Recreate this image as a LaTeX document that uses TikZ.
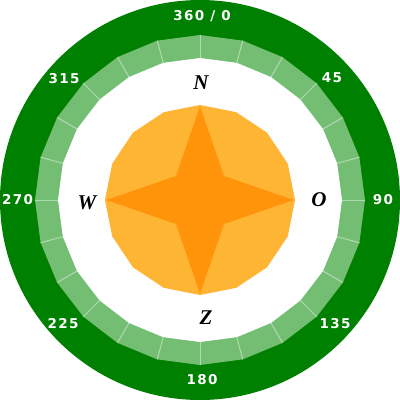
\documentclass[tikz,border=0pt]{standalone}
\usepackage{fontspec}
\newfontfamily\numfont{DejaVu Sans}[LetterSpace=10]
\newfontfamily\dirfont{Liberation Serif}
\definecolor{cgreen}{RGB}{0,128,0}
\definecolor{lgreen}{RGB}{116,190,116}
\definecolor{tickc}{RGB}{176,218,176}
\definecolor{corange}{RGB}{255,181,52}
\definecolor{sorange}{RGB}{255,148,10}
\tikzset{
  numlbl/.style={text=white,font=\numfont\bfseries\fontsize{13.5}{14}\selectfont,inner sep=0pt},
  dirlbl/.style={text=black,font=\dirfont\bfseries\itshape\fontsize{21}{22}\selectfont,inner sep=0pt},
}
\begin{document}
\begin{tikzpicture}[x=1pt,y=-1pt]
\fill[white] (0,0) rectangle (400,400);
\useasboundingbox (0,0) rectangle (400,400);
\fill[cgreen] (200,200) circle[radius=200pt];
\begin{scope}[shift={(200,200)}]
  \fill[lgreen] (0:165pt) \foreach \a in {15,30,...,345}{ -- (\a:165pt)} -- cycle;
  \fill[white] (0:142pt) \foreach \a in {15,30,...,345}{ -- (\a:142pt)} -- cycle;
  \foreach \a in {0,15,...,345}{\draw[tickc,line width=1pt] (\a:142pt) -- (\a:165pt);}
  \fill[corange] (0:95pt) \foreach \a in {22.5,45,...,337.5}{ -- (\a:95pt)} -- cycle;
\end{scope}
\fill[sorange] (200,106) -- (224,176) -- (294,200) -- (224,224) -- (200,294) -- (176,224) -- (106,200) -- (176,176) -- cycle;
\node[numlbl] (n0) at (202,16.5) {360 / 0};
\node[numlbl] (n45) at (332,78) {45};
\node[numlbl] (n90) at (383,200) {90};
\node[numlbl] (n135) at (335,324) {135};
\node[numlbl] (n180) at (202,380) {180};
\node[numlbl] (n225) at (63,324) {225};
\node[numlbl] (n270) at (17.5,199.5) {270};
\node[numlbl] (n315) at (64,79) {315};
\node[dirlbl] (dN) at (201,82.5) {N};
\node[dirlbl] (dO) at (319,200) {O};
\node[dirlbl] (dZ) at (206,318) {Z};
\node[dirlbl] (dW) at (87,203) {W};
\end{tikzpicture}
\end{document}
